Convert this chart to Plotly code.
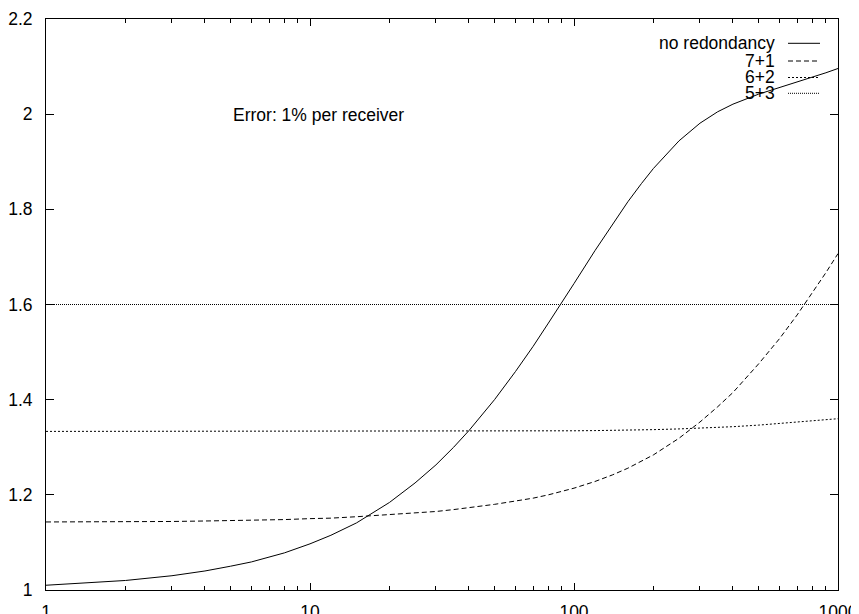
import plotly.graph_objects as go

# receivers (x) grid
receivers = [1, 1.5, 2, 3, 4, 5, 6, 8, 10, 12, 15, 20, 25, 30, 35, 40, 50, 60, 70, 80, 90,
             100, 120, 140, 160, 180, 200, 250, 300, 350, 400, 500, 600, 700, 800, 900, 1000]

no_redundancy = [1.010, 1.015, 1.020, 1.030, 1.040, 1.050, 1.059, 1.078, 1.097, 1.115,
                 1.141, 1.184, 1.225, 1.263, 1.300, 1.335, 1.400, 1.459, 1.512, 1.561,
                 1.604, 1.644, 1.713, 1.769, 1.816, 1.854, 1.886, 1.944, 1.981, 2.005,
                 2.021, 2.042, 2.056, 2.068, 2.077, 2.087, 2.096]

r7_1 = [1.143, 1.143, 1.144, 1.144, 1.145, 1.146, 1.146, 1.148, 1.150, 1.151,
        1.154, 1.158, 1.161, 1.165, 1.169, 1.173, 1.180, 1.187, 1.193, 1.200,
        1.207, 1.214, 1.228, 1.242, 1.256, 1.270, 1.284, 1.319, 1.353, 1.385,
        1.415, 1.475, 1.528, 1.578, 1.624, 1.667, 1.707]

r6_2 = [1.3333, 1.3333, 1.3333, 1.3333, 1.3333, 1.3333, 1.3333, 1.3333, 1.3334, 1.3334,
        1.3334, 1.3335, 1.3335, 1.3336, 1.3336, 1.3337, 1.3338, 1.3339, 1.3341, 1.3342,
        1.3344, 1.3346, 1.3350, 1.3354, 1.3359, 1.3364, 1.3370, 1.3385, 1.3400, 1.3416,
        1.3432, 1.3465, 1.3500, 1.3530, 1.3555, 1.3578, 1.3600]

r5_3 = [1.6] * len(receivers)

series_names = ["no redondancy", "7+1", "6+2", "5+3"]
series_values = [no_redundancy, r7_1, r6_2, r5_3]
series_dash = ["solid", "5px,3px", "2px,2px", "1px,1px"]

x_tickvals = [1, 10, 100, 1000]
x_ticktext = ["1", "10", "100", "1000"]
y_tickvals = [1, 1.2, 1.4, 1.6, 1.8, 2, 2.2]
y_ticktext = ["1", "1.2", "1.4", "1.6", "1.8", "2", "2.2"]

FONT = "Liberation Sans, Arial, Helvetica, sans-serif"
FS = 17.5

fig = go.Figure()
for name, vals, dash in zip(series_names, series_values, series_dash):
    fig.add_trace(go.Scatter(
        x=receivers, y=vals, mode="lines", name=name,
        line=dict(color="black", width=1, dash=dash),
        showlegend=False,
    ))

# Page body has an 8px default margin, so the figure is laid out 8px up/left.
# On-screen plot area: x 46..838 (792 px), y 19..590 (571 px)
def px_x(p):
    return (p - 46) / 792.0

def px_y(p):
    return (590 - p) / 571.0

leg_rows_px = [43.3, 61.0, 77.5, 93.3]
for name, dash, ypx in zip(series_names, series_dash, leg_rows_px):
    fig.add_annotation(xref="paper", yref="paper", x=px_x(777), y=px_y(ypx), text=name,
                       showarrow=False, xanchor="right", yanchor="middle",
                       font=dict(family=FONT, size=FS, color="black"))
    fig.add_shape(type="line", xref="paper", yref="paper",
                  x0=px_x(788), x1=px_x(820), y0=px_y(ypx), y1=px_y(ypx),
                  line=dict(color="black", width=1, dash=dash))

fig.add_annotation(x=0.699, y=1.998, text="Error: 1% per receiver", showarrow=False,
                   xanchor="left", yanchor="middle",
                   font=dict(family=FONT, size=FS, color="black"))

fig.update_layout(
    width=859, height=614,
    margin=dict(l=38, r=29, t=11, b=32, autoexpand=False),
    paper_bgcolor="white", plot_bgcolor="white",
    font=dict(family=FONT, size=FS, color="black"),
    showlegend=False,
)
fig.update_xaxes(
    type="log", range=[0, 3], automargin=False,
    tickvals=x_tickvals, ticktext=x_ticktext,
    ticks="inside", ticklen=7, tickwidth=1, tickcolor="black",
    showline=True, linecolor="black", linewidth=1, mirror="allticks",
    showgrid=False, zeroline=False,
    minor=dict(ticks="inside", ticklen=4, tickwidth=1, tickcolor="black", dtick="D1", showgrid=False),
    ticklabelstandoff=6,
)
fig.update_yaxes(
    range=[1, 2.2], automargin=False,
    tickvals=y_tickvals, ticktext=y_ticktext,
    ticks="inside", ticklen=8, tickwidth=1, tickcolor="black",
    showline=True, linecolor="black", linewidth=1, mirror="allticks",
    showgrid=False, zeroline=False,
    ticklabelstandoff=9,
)

fig.write_html("out.html")
